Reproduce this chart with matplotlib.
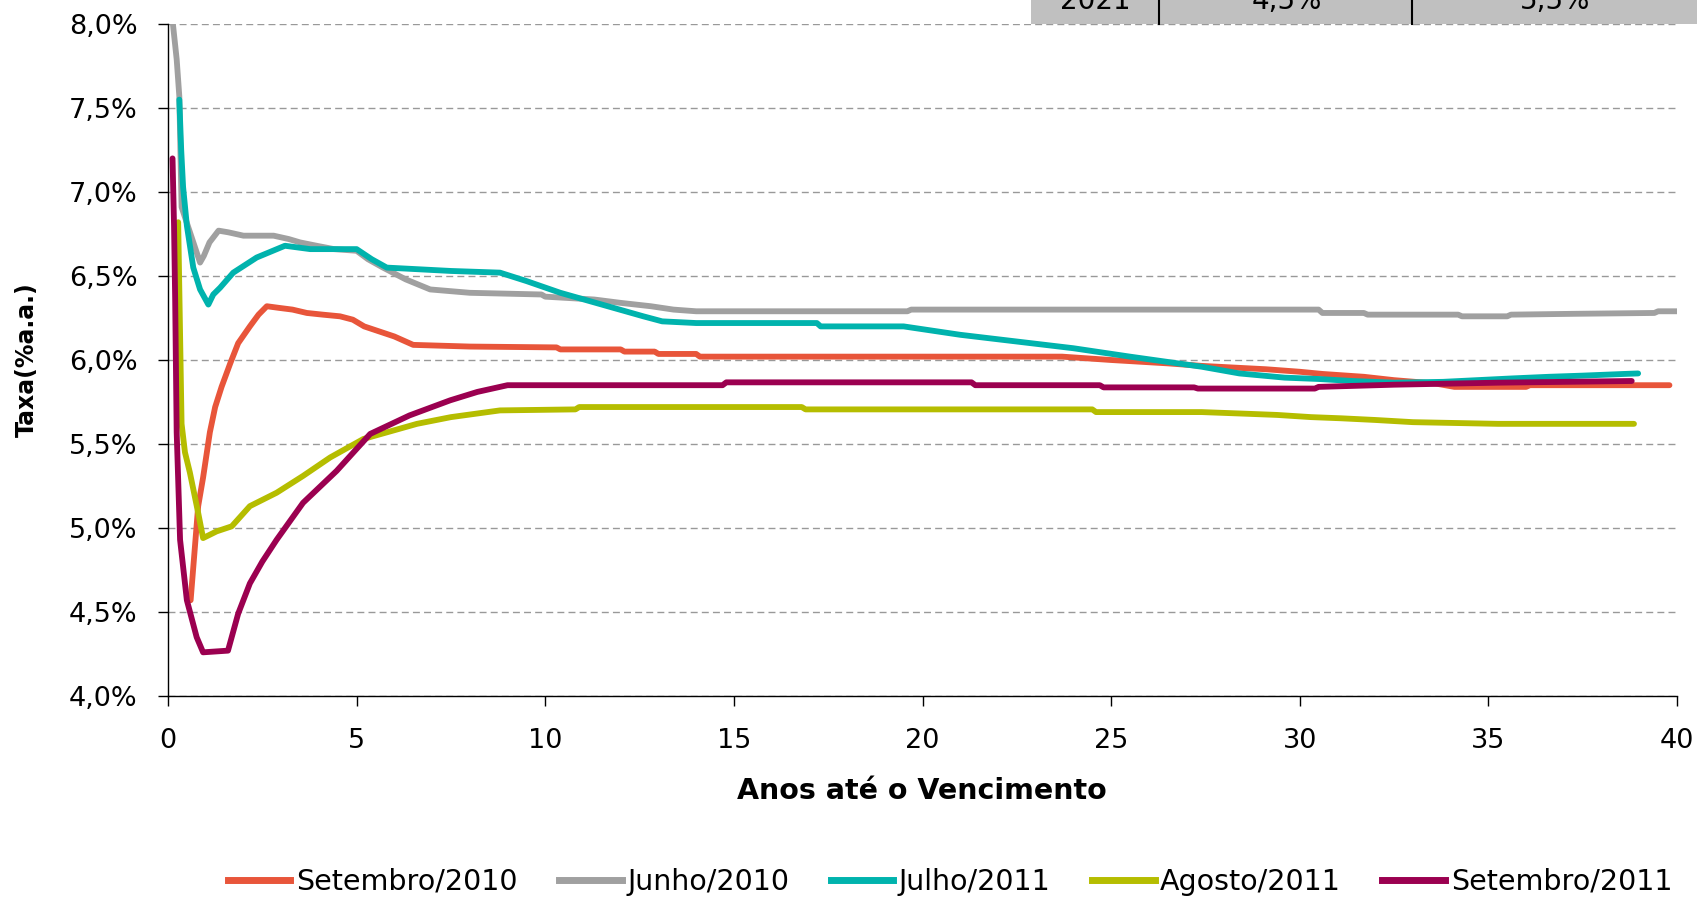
import matplotlib
matplotlib.use("Agg")
import matplotlib.pyplot as plt
from matplotlib.patches import Rectangle
from matplotlib.lines import Line2D
from matplotlib.ticker import FuncFormatter, MultipleLocator

# curve data: years to maturity / rate (% a.a.)
set10_x = [0.60, 0.70, 0.80, 0.93, 1.11, 1.25, 1.42, 1.65, 1.86, 2.17, 2.40, 2.62, 2.95, 3.30, 3.68,
           4.10, 4.56, 4.90, 5.20, 5.60, 6.00, 6.50, 8.00, 10.3, 10.4, 12.0, 12.1, 12.9, 13.0, 14.0,
           14.1, 23.7, 25.0, 26.5, 27.4, 29.1, 30.0, 30.6, 31.7, 32.5, 33.6, 34.1, 36.0, 36.1, 39.8]
set10_y = [4.57, 4.85, 5.13, 5.30, 5.57, 5.72, 5.84, 5.98, 6.10, 6.20, 6.27, 6.32, 6.31, 6.30, 6.28,
           6.27, 6.26, 6.24, 6.20, 6.17, 6.14, 6.09, 6.08, 6.075, 6.063, 6.063, 6.05, 6.05, 6.036, 6.036,
           6.02, 6.02, 6.00, 5.98, 5.965, 5.945, 5.93, 5.917, 5.90, 5.88, 5.86, 5.84, 5.84, 5.85, 5.85]

jun10_x = [0.10, 0.13, 0.23, 0.30, 0.36, 0.85, 0.95, 1.10, 1.34, 1.60, 2.00, 2.80, 3.20, 3.50, 3.94,
           4.40, 5.00, 5.30, 5.70, 6.30, 6.95, 8.00, 9.90, 10.0, 11.3, 12.0, 12.8, 13.4, 14.0, 19.6,
           19.7, 30.5, 30.6, 31.7, 31.8, 34.2, 34.3, 35.5, 35.6, 37.3, 39.4, 39.5, 40.0]
jun10_y = [8.30, 8.00, 7.79, 7.57, 6.91, 6.58, 6.62, 6.70, 6.77, 6.76, 6.74, 6.74, 6.72, 6.70, 6.68,
           6.66, 6.65, 6.60, 6.55, 6.48, 6.42, 6.40, 6.39, 6.377, 6.36, 6.34, 6.32, 6.30, 6.29, 6.29,
           6.30, 6.30, 6.28, 6.28, 6.27, 6.27, 6.26, 6.26, 6.27, 6.275, 6.28, 6.29, 6.29]

jul11_x = [0.30, 0.35, 0.40, 0.50, 0.67, 0.85, 1.07, 1.20, 1.38, 1.73, 2.35, 3.10, 3.77, 5.00, 5.40,
           5.80, 7.50, 8.80, 9.50, 10.4, 11.5, 12.6, 13.1, 14.0, 17.2, 17.3, 19.5, 21.0, 22.5, 24.0,
           25.5, 27.4, 28.4, 29.6, 30.5, 31.4, 32.5, 33.8, 34.7, 35.6, 36.6, 37.5, 38.6, 38.97]
jul11_y = [7.55, 7.25, 7.03, 6.80, 6.55, 6.42, 6.33, 6.39, 6.43, 6.52, 6.61, 6.68, 6.66, 6.66, 6.60,
           6.55, 6.53, 6.52, 6.47, 6.40, 6.33, 6.26, 6.23, 6.22, 6.22, 6.20, 6.20, 6.15, 6.11, 6.07,
           6.02, 5.96, 5.92, 5.895, 5.887, 5.875, 5.865, 5.87, 5.88, 5.89, 5.90, 5.907, 5.917, 5.92]

ago11_x = [0.27, 0.36, 0.45, 0.58, 0.80, 0.93, 1.29, 1.69, 2.17, 2.88, 3.58, 4.30, 5.18, 6.60, 7.50,
           8.80, 10.8, 10.9, 16.8, 16.9, 24.5, 24.6, 27.4, 28.6, 29.4, 30.3, 31.1, 32.0, 33.0, 35.25,
           38.86]
ago11_y = [6.82, 5.62, 5.45, 5.33, 5.09, 4.94, 4.98, 5.01, 5.13, 5.21, 5.31, 5.42, 5.53, 5.62, 5.66,
           5.70, 5.706, 5.72, 5.72, 5.706, 5.706, 5.69, 5.69, 5.68, 5.673, 5.66, 5.653, 5.643, 5.63, 5.62,
           5.62]

set11_x = [0.12, 0.16, 0.19, 0.23, 0.32, 0.50, 0.76, 0.93, 1.59, 1.86, 2.17, 2.50, 2.88, 3.58, 4.47,
           5.36, 6.40, 7.48, 8.20, 9.00, 14.7, 14.8, 21.3, 21.4, 24.7, 24.8, 27.2, 27.3, 30.4, 30.5,
           32.5, 35.25, 38.8]
set11_y = [7.20, 6.80, 6.36, 5.57, 4.93, 4.57, 4.35, 4.26, 4.27, 4.49, 4.67, 4.80, 4.93, 5.15, 5.34,
           5.56, 5.67, 5.76, 5.81, 5.85, 5.85, 5.867, 5.867, 5.85, 5.85, 5.837, 5.837, 5.83, 5.83, 5.84,
           5.853, 5.865, 5.875]

series = [
    ("Setembro/2010", set10_x, set10_y, "#E8553A"),
    ("Junho/2010", jun10_x, jun10_y, "#A0A0A0"),
    ("Julho/2011", jul11_x, jul11_y, "#00B3AD"),
    ("Agosto/2011", ago11_x, ago11_y, "#B5BD00"),
    ("Setembro/2011", set11_x, set11_y, "#9B0050"),
]

# small table cut off at the top of the image
table_cells = ["2021", "4,5%", "5,5%"]

plt.rcParams["font.family"] = ["DejaVu Sans"]

W, H = 1697, 898
fig = plt.figure(figsize=(W / 100, H / 100), dpi=100)
ax = fig.add_axes([168 / W, 1 - 696 / H, (1677 - 168) / W, (696 - 24) / H])

for label, xs, ys, color in series:
    ax.plot(xs, ys, color=color, lw=4.2, label=label, solid_capstyle="round", solid_joinstyle="round")

ax.set_xlim(0, 40)
ax.set_ylim(4, 8)
ax.xaxis.set_major_locator(MultipleLocator(5))
ax.yaxis.set_major_locator(MultipleLocator(0.5))
ax.yaxis.set_major_formatter(FuncFormatter(lambda v, p: f"{v:.1f}%".replace(".", ",")))
ax.yaxis.grid(True, linestyle=(0, (5, 3)), color="#999999", lw=1)
ax.tick_params(axis="y", direction="out", length=7, width=1, pad=15, labelsize=19.5)
ax.tick_params(axis="x", direction="out", length=7, width=1, pad=16, labelsize=19.5)
for side in ("top", "right"):
    ax.spines[side].set_visible(False)
for side in ("left", "bottom"):
    ax.spines[side].set_color("black")
    ax.spines[side].set_linewidth(1)

fig.text(922 / W, 1 - 791 / H, "Anos até o Vencimento", ha="center", va="center",
         fontsize=20.5, fontweight="bold")
fig.text(27 / W, 1 - 360 / H, "Taxa(%a.a.)", ha="center", va="center", rotation=90,
         fontsize=17, fontweight="bold")

handles = [Line2D([], [], color=c, lw=5) for _, _, _, c in series]
fig.legend(handles, [s[0] for s in series], loc="center", bbox_to_anchor=(950 / W, 1 - 882 / H),
           ncol=5, frameon=False, fontsize=20.5, handlelength=2.2, handletextpad=0.2,
           columnspacing=1.45, borderaxespad=0)

# table fragment
fig.add_artist(Rectangle((1031 / W, 1 - 24 / H), 1 - 1031 / W, 24 / H, transform=fig.transFigure,
                         facecolor="#C0C0C0", edgecolor="none", zorder=5))
for xd in (1159, 1412):
    fig.add_artist(Line2D([xd / W, xd / W], [1 - 24 / H, 1], transform=fig.transFigure,
                          color="black", lw=1.5, zorder=6))
for xc, txt in zip((1095, 1287, 1555), table_cells):
    fig.text(xc / W, 1 - 9 / H, txt, ha="center", va="baseline", fontsize=20, zorder=7)

fig.savefig("out.png", dpi=100)
